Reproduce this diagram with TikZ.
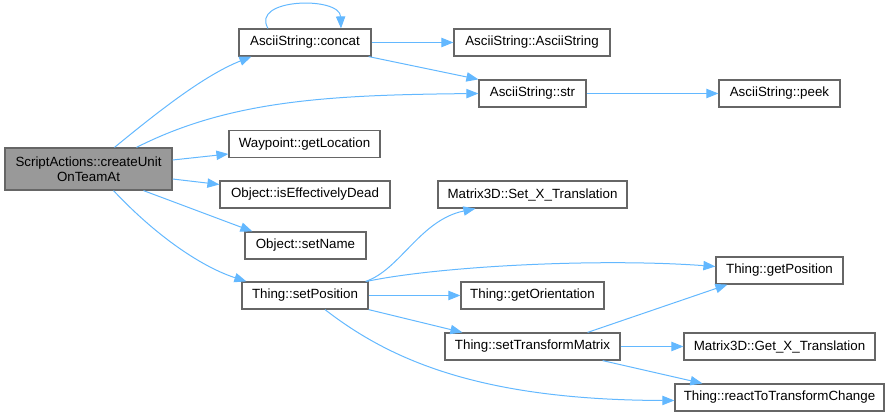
\documentclass[tikz,border=0pt]{standalone}
\usepackage{fontspec}
\setmainfont{Liberation Sans}
\usetikzlibrary{calc, arrows.meta}
\definecolor{CallEdge}{HTML}{63B8FF}
\definecolor{FnBorder}{HTML}{666666}
\definecolor{FnRootBg}{HTML}{999999}
\tikzset{
  fn/.style={draw=FnBorder, fill=white, line width=0.9pt, inner sep=0pt,
    minimum height=20.25pt, font=\fontsize{10}{11.25}\selectfont},
  fnw/.style={minimum width={#1*0.75pt}},
  call/.style={draw=CallEdge, line width=0.75pt,
    -{Triangle[length=9pt,width=7pt]}}
}

\begin{document}
\begin{tikzpicture}[x=0.75pt, y=-0.75pt]
      \useasboundingbox (0,0) rectangle (889,416);
      %% Caller
      \node[fn, fnw=167, minimum height=31.5pt, fill=FnRootBg, align=center] (root)
        at (88.5,169) {ScriptActions::createUnit\\OnTeamAt};
      %% Second column
      \node[fn, fnw=132] (concat)  at (305,42.5)   {AsciiString::concat};
      \node[fn, fnw=151] (getloc)  at (304.5,144)  {Waypoint::getLocation};
      \node[fn, fnw=170] (dead)    at (305,194.5)  {Object::isEffectivelyDead};
      \node[fn, fnw=121] (setname) at (305.5,245.5){Object::setName};
      \node[fn, fnw=126] (setpos)  at (305,295.5)  {Thing::setPosition};
      %% Third column
      \node[fn, fnw=156] (ascii)   at (532,42.5)   {AsciiString::AsciiString};
      \node[fn, fnw=107] (str)     at (532.5,93.5) {AsciiString::str};
      \node[fn, fnw=189] (setx)    at (532.5,194.5){Matrix3D::Set\_X\_Translation};
      \node[fn, fnw=143] (getori)  at (532.5,295.5){Thing::getOrientation};
      \node[fn, fnw=175] (settm)   at (532.5,346.5){Thing::setTransformMatrix};
      %% Fourth column
      \node[fn, fnw=121] (peek)    at (779.5,93.5) {AsciiString::peek};
      \node[fn, fnw=127] (getpos)  at (779.5,270.5){Thing::getPosition};
      \node[fn, fnw=191] (getx)    at (779.5,346.5){Matrix3D::Get\_X\_Translation};
      \node[fn, fnw=209] (react)   at (779.5,397.5){Thing::reactToTransformChange};
      %% Calls from the caller
      \draw[call] ($(root.north)+(26,0)$) .. controls (160,110) and (205,75) .. ($(concat.south west)+(13,0)$);
      \draw[call] ($(root.north)+(48,0)$) .. controls (230,100) and (330,95) .. (str.west);
      \draw[call] ($(root.east)+(0,-9)$) -- ($(getloc.west)+(0,10)$);
      \draw[call] ($(root.east)+(0,10)$) -- ($(dead.west)+(0,-10)$);
      \draw[call] ($(root.south)+(55,0)$) -- ($(setname.north west)+(8,0)$);
      \draw[call] ($(root.south)+(25,0)$) .. controls (160,240) and (205,268) .. ($(setpos.north west)+(5,0)$);
      %% AsciiString
      \draw[call] ($(concat.north)+(-37,0)$) .. controls (250,-2) and (340,-4) .. ($(concat.north)+(36,0)$);
      \draw[call] (concat) -- (ascii);
      \draw[call] ($(concat.south east)+(-3,0)$) -- (str.north west);
      \draw[call] (str) -- (peek);
      %% Thing::setPosition
      \draw[call] ($(setpos.north east)+(-3,0)$) .. controls (400,270) and (420,220) .. ($(setx.south west)+(38,0)$);
      \draw[call] ($(setpos.north east)+(-2,0)$) .. controls (440,266) and (600,258) .. ($(getpos.west)+(0,-4)$);
      \draw[call] (setpos) -- (getori);
      \draw[call] (setpos.south east) -- ($(settm.north west)+(18,0)$);
      \draw[call] ($(setpos.south)+(20,0)$) .. controls (390,360) and (480,400) .. ($(react.west)+(0,3)$);
      %% Thing::setTransformMatrix
      \draw[call] ($(settm.north east)+(-33,0)$) -- ($(getpos.south west)+(12,0)$);
      \draw[call] (settm) -- (getx);
      \draw[call] ($(settm.south east)+(-18,0)$) -- ($(react.north west)+(28,0)$);
\end{tikzpicture}
\end{document}
